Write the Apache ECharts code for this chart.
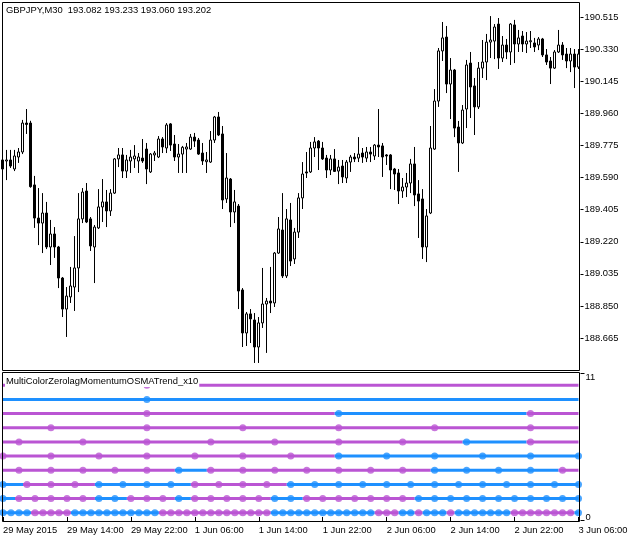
<!DOCTYPE html>
<html>
<head>
<meta charset="utf-8">
<script src="https://cdn.jsdelivr.net/npm/echarts@6/dist/echarts.min.js"></script>
<style>html,body{margin:0;padding:0;background:#fff}#c{width:632px;height:542px}</style>
</head>
<body>
<div id="c"></div>
<script>
const symbolTitle = 'GBPJPY,M30  193.082 193.233 193.060 193.202';
const indicatorName = 'MultiColorZerolagMomentumOSMATrend_x10';
const timeTickLabels = ['29 May 2015','29 May 14:00','29 May 22:00','1 Jun 06:00','1 Jun 14:00','1 Jun 22:00','2 Jun 06:00','2 Jun 14:00','2 Jun 22:00','3 Jun 06:00'];
const priceTicks = [188.665,188.850,189.035,189.220,189.405,189.590,189.775,189.960,190.145,190.330,190.515];
const indicatorTicks = [0, 11];

const opens = [189.692,189.686,189.692,189.640,189.709,189.738,189.905,189.905,189.548,189.357,
189.328,189.386,189.190,189.265,189.190,189.011,188.832,188.902,188.959,189.069,
189.352,189.513,189.352,189.190,189.300,189.421,189.450,189.398,189.501,189.698,
189.721,189.628,189.686,189.698,189.686,189.703,189.755,189.623,189.721,189.709,
189.813,189.761,189.900,189.784,189.709,189.726,189.755,189.755,189.824,189.807,
189.732,189.682,189.680,189.807,189.940,189.842,189.467,189.582,189.392,189.426,
188.942,188.694,188.804,188.769,188.613,188.752,188.861,188.878,188.867,189.155,
189.288,189.023,189.346,189.121,189.276,189.473,189.623,189.623,189.761,189.801,
189.761,189.703,189.634,189.698,189.628,189.657,189.588,189.680,189.709,189.703,
189.732,189.703,189.738,189.715,189.778,189.773,189.721,189.721,189.640,189.617,
189.513,189.536,189.559,189.669,189.496,189.467,189.190,189.386,189.755,190.032,
190.321,190.401,190.130,190.211,189.882,189.790,189.986,190.251,190.119,189.998,
190.222,190.257,190.372,190.378,190.476,190.280,190.355,190.315,190.471,190.361,
190.407,190.361,190.374,190.367,190.355,190.390,190.298,190.263,190.222,190.315,
190.355,190.303,190.263,190.303,190.228];
const highs = [189.703,189.750,189.750,189.750,189.761,189.923,189.986,189.918,189.600,189.530,
189.501,189.450,189.346,189.305,189.196,189.017,188.959,189.075,189.253,189.501,
189.530,189.559,189.363,189.317,189.524,189.582,189.519,189.524,189.703,189.761,
189.761,189.721,189.750,189.778,189.732,189.813,189.790,189.732,189.744,189.830,
189.824,189.905,189.905,189.836,189.784,189.773,189.790,189.842,189.848,189.819,
189.790,189.738,189.859,189.946,189.969,189.888,189.732,189.588,189.519,189.438,
188.953,188.815,188.832,188.809,188.786,189.069,188.896,189.075,189.161,189.363,
189.501,189.409,189.444,189.300,189.501,189.680,189.738,189.796,189.824,189.807,
189.796,189.721,189.721,189.755,189.692,189.692,189.692,189.721,189.732,189.824,
189.761,189.767,189.767,189.784,189.986,189.790,189.726,189.726,189.646,189.640,
189.588,189.617,189.698,189.767,189.576,189.524,189.409,189.888,190.101,190.338,
190.488,190.465,190.280,190.217,189.917,190.009,190.269,190.315,190.165,190.257,
190.384,190.419,190.522,190.476,190.511,190.407,190.390,190.482,190.500,190.442,
190.436,190.430,190.436,190.396,190.401,190.396,190.332,190.286,190.326,190.442,
190.372,190.338,190.338,190.332,190.332];
const lows = [189.628,189.576,189.646,189.628,189.675,189.726,189.842,189.532,189.300,189.201,
189.155,189.178,189.086,189.127,188.953,188.786,188.671,188.867,188.821,188.930,
189.328,189.328,189.167,188.982,189.294,189.334,189.305,189.369,189.496,189.651,
189.588,189.588,189.617,189.646,189.617,189.675,189.553,189.617,189.686,189.703,
189.732,189.732,189.744,189.686,189.617,189.617,189.617,189.750,189.767,189.721,
189.663,189.617,189.675,189.790,189.830,189.409,189.444,189.305,189.328,188.832,
188.613,188.619,188.636,188.521,188.521,188.723,188.579,188.809,188.844,189.150,
189.011,189.011,189.080,189.092,189.242,189.409,189.588,189.617,189.709,189.634,
189.692,189.588,189.605,189.623,189.553,189.559,189.559,189.623,189.680,189.680,
189.675,189.680,189.680,189.692,189.709,189.594,189.663,189.524,189.519,189.438,
189.473,189.478,189.501,189.426,189.242,189.121,189.103,189.380,189.750,189.998,
190.263,190.078,189.928,189.824,189.623,189.784,189.876,189.934,189.836,189.986,
190.165,190.153,190.280,190.274,190.217,190.257,190.274,190.240,190.251,190.315,
190.315,190.309,190.338,190.315,190.326,190.286,190.240,190.130,190.217,190.309,
190.269,190.222,190.199,190.107,190.217];
const closes = [189.640,189.692,189.657,189.715,189.738,189.905,189.897,189.538,189.357,189.328,
189.386,189.190,189.265,189.190,189.011,188.832,188.907,188.965,189.069,189.352,
189.507,189.334,189.196,189.305,189.421,189.450,189.398,189.501,189.698,189.721,
189.628,189.692,189.709,189.715,189.709,189.686,189.640,189.726,189.732,189.813,
189.767,189.894,189.778,189.709,189.726,189.765,189.767,189.824,189.801,189.726,
189.686,189.692,189.807,189.940,189.836,189.461,189.588,189.392,189.450,188.936,
188.694,188.804,188.775,188.613,188.752,188.861,188.878,188.867,189.155,189.294,
189.023,189.352,189.109,189.276,189.473,189.611,189.617,189.761,189.796,189.761,
189.698,189.634,189.698,189.626,189.651,189.594,189.680,189.709,189.698,189.726,
189.709,189.738,189.726,189.778,189.767,189.709,189.715,189.634,189.611,189.513,
189.536,189.559,189.669,189.490,189.455,189.190,189.369,189.761,190.032,190.321,
190.396,190.130,190.211,189.876,189.790,189.980,190.240,190.113,189.998,190.222,
190.257,190.372,190.384,190.459,190.280,190.355,190.315,190.476,190.361,190.396,
190.361,190.378,190.380,190.344,190.390,190.298,190.257,190.222,190.315,190.355,
190.298,190.263,190.303,190.228,190.303];

// Indicator rows (bottom = row 1 ... top = row 10): colour segments as [first bar, colour]
const rowSegments = [
  [[0,'B'],[8,'M'],[18,'B'],[40,'M'],[68,'B'],[94,'M'],[100,'B'],[104,'M'],[106,'B'],[112,'M'],[114,'B'],[128,'M'],[144,'B']],
  [[0,'B'],[4,'M'],[24,'B'],[32,'M'],[44,'B'],[48,'M'],[68,'B'],[76,'M'],[104,'B']],
  [[0,'B'],[6,'M'],[24,'B'],[48,'M'],[72,'B']],
  [[0,'M'],[44,'B'],[52,'M'],[108,'B'],[140,'M']],
  [[0,'M'],[84,'B']],
  [[0,'M'],[116,'B'],[132,'M']],
  [[0,'M']],
  [[0,'M'],[84,'B'],[132,'M']],
  [[0,'B']],
  [[0,'M']]
];
// first bar of each higher-timeframe bar (dot marks), per row
const rowDotFirst = [0,0,0,4,0,4,12,36,36,36];
const rowDotStep  = [2,4,6,8,12,16,24,48,1000,1000];

const COLORS = {M:'#BA55D3', B:'#1E90FF'};
const FONT = '"Liberation Sans", Arial, sans-serif';
const FS = 9.4;
const PRICE_MIN = 188.4804, PRICE_MAX = 190.6033;

const N = opens.length;
const bars = opens.map((_, i) => String(i));
const candleData = opens.map((o, i) => [o, closes[i], lows[i], highs[i]]);

const series = [{
  type: 'candlestick', xAxisIndex: 0, yAxisIndex: 0, data: candleData, barWidth: 3,
  itemStyle: {color: '#ffffff', color0: '#000000', borderColor: '#000000', borderColor0: '#000000', borderColorDoji: '#000000', borderWidth: 1},
  silent: true
}];

function colorAt(segs, i) {
  let c = segs[0][1];
  for (const s of segs) if (s[0] <= i) c = s[1];
  return c;
}

rowSegments.forEach((segs, r) => {
  const level = r + 1;
  segs.forEach((seg, k) => {
    const from = Math.max(seg[0] - 1, 0);
    const to = k + 1 < segs.length ? segs[k + 1][0] - 1 : N - 1;
    const data = bars.map((_, i) => (i >= from && i <= to) ? level : '-');
    series.push({
      type: 'line', xAxisIndex: 1, yAxisIndex: 1, data, symbol: 'none', silent: true,
      lineStyle: {color: COLORS[seg[1]], width: 3}, itemStyle: {color: COLORS[seg[1]]}, z: 2
    });
  });
  const dots = [];
  for (let i = rowDotFirst[r]; i < N; i += rowDotStep[r]) {
    dots.push({value: [i, level], itemStyle: {color: COLORS[colorAt(segs, i)]}});
  }
  series.push({type: 'scatter', xAxisIndex: 1, yAxisIndex: 1, data: dots, symbol: 'circle', symbolSize: 7, silent: true, z: 3});
});

const labelStyle = {color: '#000', fontSize: FS, fontFamily: FONT};

const option = {
  animation: false,
  backgroundColor: '#ffffff',
  textStyle: {fontFamily: FONT},
  title: [
    {text: symbolTitle, left: 6, top: 4, padding: 0,
     textStyle: {fontSize: FS, fontWeight: 'normal', color: '#000', fontFamily: FONT, lineHeight: 12}},
    {text: indicatorName, left: 5, top: 374, padding: [1, 1, 0, 1], backgroundColor: '#ffffff', z: 10,
     textStyle: {fontSize: FS, fontWeight: 'normal', color: '#000', fontFamily: FONT, lineHeight: 12}}
  ],
  grid: [
    {left: 0.5, top: 2, width: 580, height: 368, show: false},
    {left: 0.5, top: 372, width: 580, height: 149, show: false}
  ],
  xAxis: [
    {type: 'category', gridIndex: 0, data: bars, boundaryGap: true, show: false},
    {type: 'category', gridIndex: 1, data: bars, boundaryGap: true,
     axisLine: {show: false},
     axisTick: {show: true, interval: 15, alignWithLabel: true, length: 4, lineStyle: {color: '#000'}},
     axisLabel: Object.assign({interval: 15, align: 'left', margin: 5, hideOverlap: false,
       formatter: (v, idx) => timeTickLabels[Math.round(idx / 16)] || ''}, labelStyle),
     splitLine: {show: false}}
  ],
  yAxis: [
    {type: 'value', gridIndex: 0, position: 'right', min: PRICE_MIN, max: PRICE_MAX,
     axisLine: {show: false},
     axisTick: {show: true, length: 3, customValues: priceTicks, lineStyle: {color: '#000'}},
     axisLabel: Object.assign({customValues: priceTicks, margin: 4, formatter: v => v.toFixed(3)}, labelStyle),
     splitLine: {show: false}},
    {type: 'value', gridIndex: 1, min: 0.414, max: 10.94, show: false},
    {type: 'value', gridIndex: 1, position: 'right', min: -0.315, max: 11.434,
     axisLine: {show: false},
     axisTick: {show: true, length: 4, customValues: [-0.276, 11.355], lineStyle: {color: '#000'}},
     axisLabel: Object.assign({customValues: indicatorTicks, margin: 5, formatter: v => String(Math.round(v))}, labelStyle),
     splitLine: {show: false}}
  ],
  graphic: [
    {type: 'rect', z: 100, silent: true, shape: {x: 2.5, y: 2.5, width: 577, height: 368},
     style: {fill: null, stroke: '#000', lineWidth: 1}},
    {type: 'rect', z: 100, silent: true, shape: {x: 2.5, y: 372.5, width: 577, height: 149},
     style: {fill: null, stroke: '#000', lineWidth: 1}}
  ],
  series
};

const chart = echarts.init(document.getElementById('c'), null, {renderer: 'canvas'});
chart.setOption(option);
</script>
</body>
</html>
